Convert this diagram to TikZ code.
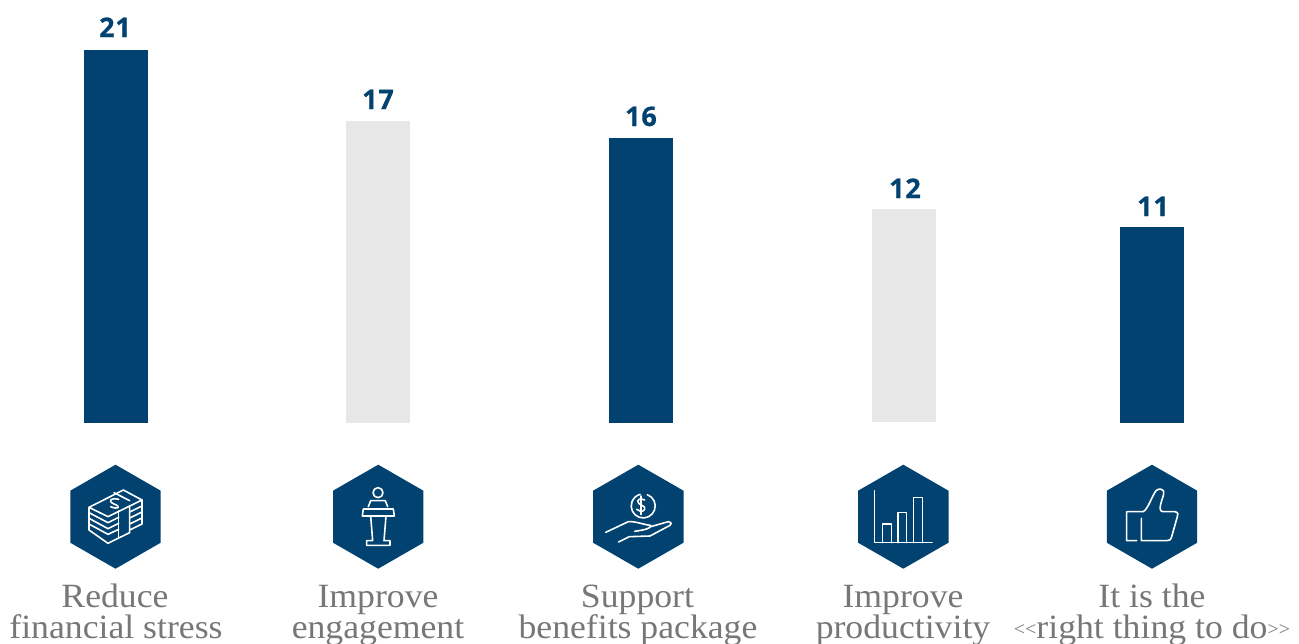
\documentclass[tikz,border=0pt]{standalone}
\usepackage{fontspec}
\setmainfont{Liberation Serif}
\newfontfamily\labfont[FakeStretch=1.05]{Liberation Serif}
\newfontfamily\numfont[BoldFeatures={FakeBold=0.6},LetterSpace=3]{Open Sans}
\definecolor{navy}{HTML}{014270}
\definecolor{barg}{HTML}{E7E7E7}
\definecolor{txt}{HTML}{777777}
\newcommand{\angtext}[1]{\raisebox{3pt}{\fontsize{19}{19}\selectfont #1}}
\tikzset{
  barbox/.style={anchor=north west,inner sep=0pt,minimum width=64pt},
  navybar/.style={barbox,fill=navy},
  greybar/.style={barbox,fill=barg},
  val/.style={anchor=base,inner sep=0pt,text=navy,font=\numfont\bfseries\fontsize{27}{27}\selectfont},
  lab/.style={anchor=base,inner sep=0pt,text=txt,font=\labfont\fontsize{34}{34}\selectfont},
  hexa/.style={fill=navy},
  ico/.style={draw=white,line width=1.6pt,line join=round,line cap=round},
  zoomA/.style={shift={(#1,450)},x=0.33333pt,y=-0.33333pt}
}
\newcommand{\hexagon}[1]{\fill[hexa,shift={(#1,516.7)}] (0,-52) -- (45.2,-26) -- (45.2,26) -- (0,52) -- (-45.2,26) -- (-45.2,-26) -- cycle;}
\begin{document}
\begin{tikzpicture}[x=1pt,y=-1pt]
\useasboundingbox (0,0) rectangle (1299,643);
\node[navybar,minimum height=373pt] (b1) at (84,50) {};
\node[greybar,minimum height=302pt] (b2) at (346,121) {};
\node[navybar,minimum height=285pt] (b3) at (609,138) {};
\node[greybar,minimum height=213pt] (b4) at (872,209) {};
\node[navybar,minimum height=196pt] (b5) at (1120,227) {};
\node[val] (v1) at (115,37) {21};
\node[val] (v2) at (378,109) {17};
\node[val] (v3) at (641,126) {16};
\node[val] (v4) at (905,198) {12};
\node[val] (v5) at (1153,216) {11};
\hexagon{115.5}\hexagon{378.2}\hexagon{638.3}\hexagon{903.3}\hexagon{1152}
% money
\begin{scope}[zoomA=40]
\draw[ico] (147,172) -- (250,120) -- (306,150) -- (204,200) -- cycle;
\draw[ico] (147,172) -- (147,188) -- (204,218) -- (236,202);
\draw[ico] (147,188) -- (147,205) -- (204,236) -- (236,220);
\draw[ico] (147,205) -- (147,222) -- (204,253) -- (236,238);
\draw[ico] (147,222) -- (147,240) -- (204,280) -- (236,264);
\draw[ico] (236,183) -- (236,264);
\draw[ico] (269,167) -- (269,248) -- (236,264);
\draw[ico] (222,128) -- (269,152);
\draw[ico] (306,150) -- (306,168) -- (269,186);
\draw[ico] (306,168) -- (306,186) -- (269,204);
\draw[ico] (306,186) -- (306,204) -- (269,222);
\draw[ico] (306,204) -- (306,222) -- (269,240);
\draw[ico] (236,148) .. controls (215,142) and (200,152) .. (222,162) .. controls (245,170) and (235,180) .. (212,170);
\end{scope}
% lectern
\begin{scope}[zoomA=40]
\draw[ico] (1014,128) circle (15);
\draw[ico] (985,170) -- (992,152) -- (1036,152) -- (1043,170);
\draw[ico] (970,177) -- (1060,177) -- (1063,198) -- (967,198) -- cycle;
\draw[ico] (992,198) -- (998,272) -- (980,272) -- (980,286) -- (1050,286) -- (1050,272) -- (1032,272) -- (1038,198);
\end{scope}
% hand
\begin{scope}[zoomA=560]
\draw[ico] (262,134) arc (-70:255:36);
\draw[ico] (254,150) .. controls (240,142) and (228,150) .. (236,160) .. controls (244,168) and (258,168) .. (254,178) .. controls (248,188) and (236,184) .. (230,178) (243,138) -- (243,194);
\draw[ico] (137,247) -- (205,215) .. controls (225,213) and (255,225) .. (272,226) .. controls (275,236) and (250,240) .. (224,244);
\draw[ico] (272,230) -- (325,215) .. controls (335,218) and (336,222) .. (330,226) -- (270,258) -- (208,260) -- (176,276);
\end{scope}
% chart
\begin{scope}[zoomA=560]
\draw[ico] (944,122) -- (944,278) -- (1116,278);
\draw[ico] (968,278) -- (968,222) -- (994,222) -- (994,278);
\draw[ico] (1014,278) -- (1014,187) -- (1040,187) -- (1040,278);
\draw[ico] (1060,278) -- (1060,143) -- (1087,143) -- (1087,278);
\end{scope}
% thumb
\begin{scope}[zoomA=1000]
\draw[ico] (410,272) -- (380,272) -- (380,185) -- (430,185) .. controls (445,175) and (455,140) .. (468,122) .. controls (478,112) and (495,118) .. (491,132) .. controls (487,150) and (470,185) .. (490,185) -- (525,185) .. controls (535,188) and (535,192) .. (532,200) -- (515,260) .. controls (512,270) and (508,272) .. (500,272) -- (424,272) -- (424,205);
\end{scope}
\node[lab] (l1a) at (115,607) {Reduce};
\node[lab] (l1b) at (116,638) {financial stress};
\node[lab] (l2a) at (378,607) {Improve};
\node[lab] (l2b) at (378,638) {engagement};
\node[lab] (l3a) at (637.5,607) {Support};
\node[lab] (l3b) at (638,638) {benefits package};
\node[lab] (l4a) at (903,607) {Improve};
\node[lab] (l4b) at (903,638) {productivity};
\node[lab] (l5a) at (1152,607) {It is the};
\node[lab] (l5b) at (1152,638) {\angtext{<<}right thing to do\angtext{>>}};
\end{tikzpicture}
\end{document}
